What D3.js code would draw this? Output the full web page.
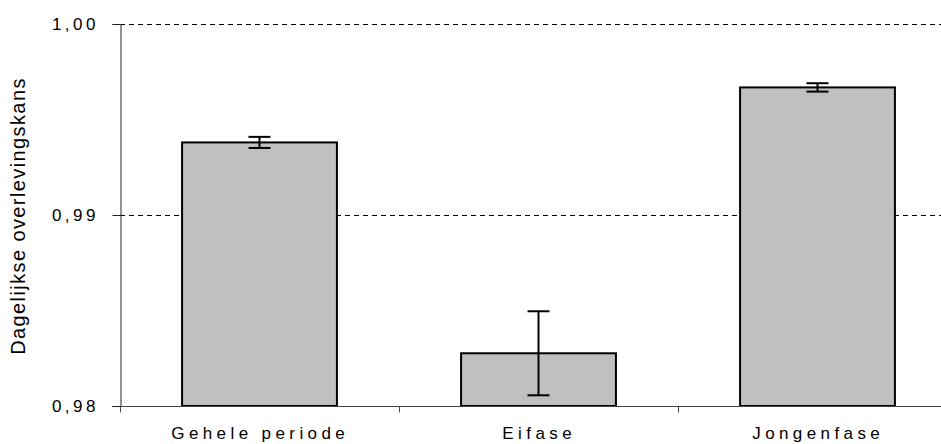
<!DOCTYPE html>
<html>
<head>
<meta charset="utf-8">
<script src="https://cdn.jsdelivr.net/npm/d3@7"></script>
<style>
  html, body { margin: 0; padding: 0; background: #fff; }
  text { font-family: "Liberation Sans", Arial, sans-serif; fill: #000; }
</style>
</head>
<body>
<svg id="chart" width="941" height="444"></svg>
<script>
const categories = ["Gehele periode", "Eifase", "Jongenfase"];
const values = [0.9938, 0.98276, 0.99668];
const errors = [0.00029, 0.0022, 0.00022];
const yTicks = [0.98, 0.99, 1.00];
const yTickLabels = ["0,98", "0,99", "1,00"];
const yTitle = "Dagelijkse overlevingskans";

const svg = d3.select("#chart");
const mLeft = 120, mTop = 24, mBottom = 406, mRight = 957;

const x = d3.scaleBand().domain(categories).range([mLeft, mRight])
  .paddingInner(0.445).paddingOuter(0.2225);
const y = d3.scaleLinear().domain([0.98, 1.00]).range([mBottom, mTop]);

// gridlines (dashed) at 0.99 and 1.00
svg.append("g").selectAll("line")
  .data(yTicks.filter(t => t > 0.98))
  .join("line")
  .attr("x1", mLeft).attr("x2", 941)
  .attr("y1", d => Math.round(y(d)) + 0.5).attr("y2", d => Math.round(y(d)) + 0.5)
  .attr("stroke", "#000").attr("stroke-width", 1)
  .attr("stroke-dasharray", "5,4");

// bars
svg.append("g").selectAll("rect")
  .data(categories)
  .join("rect")
  .attr("x", d => x(d))
  .attr("y", (d, i) => y(values[i]))
  .attr("width", x.bandwidth())
  .attr("height", (d, i) => y(0.98) - y(values[i]))
  .attr("fill", "#c0c0c0")
  .attr("stroke", "#000")
  .attr("stroke-width", 2);

// error bars
const eb = svg.append("g").attr("stroke", "#000").attr("stroke-width", 2);
categories.forEach((c, i) => {
  const cx = x(c) + x.bandwidth() / 2;
  const y1 = y(values[i] + errors[i]), y0 = y(values[i] - errors[i]);
  eb.append("line").attr("x1", cx).attr("x2", cx).attr("y1", y1).attr("y2", y0);
  eb.append("line").attr("x1", cx - 11).attr("x2", cx + 11).attr("y1", y1).attr("y2", y1);
  eb.append("line").attr("x1", cx - 11).attr("x2", cx + 11).attr("y1", y0).attr("y2", y0);
});

// y axis
const yAxis = d3.axisLeft(y).tickValues(yTicks)
  .tickFormat((d, i) => yTickLabels[i]).tickSize(8).tickPadding(13.5);
const gy = svg.append("g").attr("transform", `translate(${mLeft + 0.5},0)`).call(yAxis);
gy.select(".domain").attr("stroke", "#222");
gy.selectAll(".tick line").attr("stroke", "#222");
gy.selectAll(".tick text")
  .style("font-size", "17px").style("letter-spacing", "3.5px")
  .attr("font-family", "Liberation Sans, Arial, sans-serif");

// x axis line
const gx = svg.append("g").attr("transform", `translate(0,${mBottom + 0.5})`);
gx.append("line").attr("x1", mLeft).attr("x2", 941).attr("y1", 0).attr("y2", 0)
  .attr("stroke", "#444").attr("stroke-width", 1);
// category boundary ticks
const bounds = categories.map(c => x(c) - x.step() * x.paddingInner() / 2);
gx.selectAll("line.bt").data(bounds).join("line").attr("class", "bt")
  .attr("x1", d => Math.round(d) + 0.5).attr("x2", d => Math.round(d) + 0.5)
  .attr("y1", 0).attr("y2", 6).attr("stroke", "#444");
gx.selectAll("text").data(categories).join("text")
  .attr("x", d => x(d) + x.bandwidth() / 2 + 0.7)
  .attr("y", 32)
  .attr("text-anchor", "middle")
  .style("font-size", "17px").style("letter-spacing", "4.4px")
  .text(d => d);

// y title
svg.append("text")
  .attr("transform", `translate(25,${(mTop + mBottom) / 2 + 1}) rotate(-90)`)
  .attr("text-anchor", "middle")
  .style("font-size", "20px").style("letter-spacing", "1.4px")
  .text(yTitle);
</script>
</body>
</html>
